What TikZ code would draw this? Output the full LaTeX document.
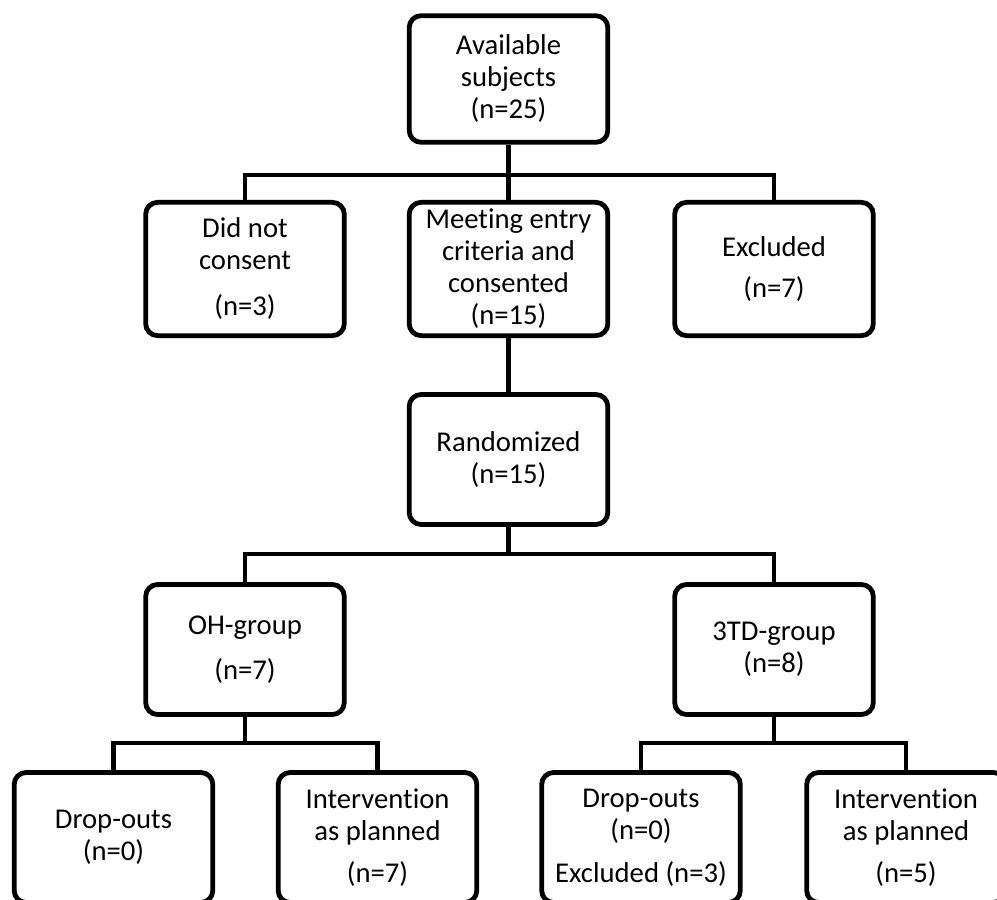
\documentclass[tikz,border=0pt]{standalone}
\usepackage{fontspec}
\setmainfont[RawFeature={-liga;-clig;-calt;-dlig;-rlig}]{Carlito}
\usepackage{tikz}

\begin{document}
\begin{tikzpicture}[x=0.75pt,y=-0.75pt,
    box/.style={draw,line width=3.6pt,rounded corners=9pt,align=center,
      minimum width=149pt,minimum height=97.5pt,inner sep=0pt,
      font=\fontsize{21.5}{24}\selectfont},
    link/.style={line width=3.6pt}]
    \useasboundingbox (0,0) rectangle (997,900);
    \clip (0,0) rectangle (997,900);
    \node[box,minimum height=95pt] (avail) at (508.5,79) {Available\\subjects\\(n=25)};
    \node[box,minimum height=100pt] (noconsent) at (245,269) {Did not\\consent\\[10.5pt](n=3)};
    \node[box,minimum height=100pt] (meeting) at (508.5,269) {Meeting entry\\criteria and\\consented\\(n=15)};
    \node[box,minimum height=100pt] (excl) at (774,269) {Excluded\\[6.75pt](n=7)};
    \node[box] (random) at (508.5,459.5) {Randomized\\(n=15)};
    \node[box] (oh) at (245,649.5) {OH-group\\[10pt](n=7)};
    \node[box] (td) at (774,649.5) {3TD-group\\(n=8)};
    \node[box] (dropoh) at (113.5,837.5) {Drop-outs\\(n=0)};
    \node[box] (planoh) at (377.5,837.5) {Intervention\\as planned\\[8pt](n=7)};
    \node[box] (droptd) at (641,837.5) {Drop-outs\\(n=0)\\[8pt]Excluded (n=3)};
    \node[box] (plantd) at (906,837.5) {Intervention\\as planned\\[8pt](n=5)};
    \coordinate (split1) at (508.5,175);
    \coordinate (split2) at (508.5,554);
    \coordinate (split3) at (245,743);
    \coordinate (split4) at (774,743);
    \draw[link] (avail) -- (meeting);
    \draw[link] (noconsent.north) |- (split1) -| (excl.north);
    \draw[link] (meeting) -- (random);
    \draw[link] (random) -- (split2);
    \draw[link] (oh.north) |- (split2) -| (td.north);
    \draw[link] (oh) -- (split3);
    \draw[link] (dropoh.north) |- (split3) -| (planoh.north);
    \draw[link] (td) -- (split4);
    \draw[link] (droptd.north) |- (split4) -| (plantd.north);
\end{tikzpicture}
\end{document}
